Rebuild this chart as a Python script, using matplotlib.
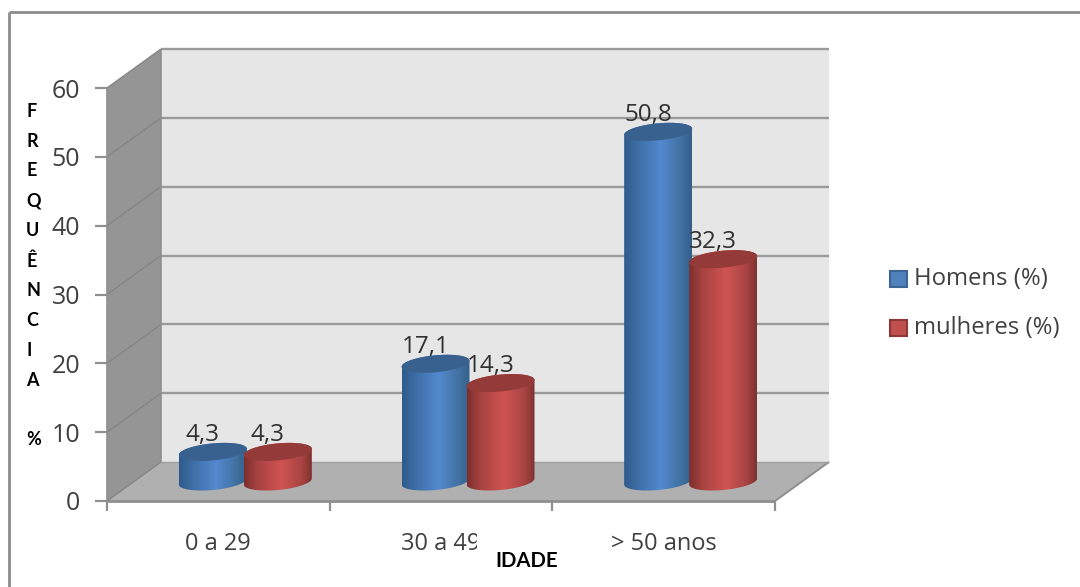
import numpy as np
import matplotlib
matplotlib.use("Agg")
import matplotlib.pyplot as plt
from matplotlib.colors import LinearSegmentedColormap
from matplotlib.patches import Polygon, Rectangle
from matplotlib.transforms import IdentityTransform

# Chart values
categories = ["0 a 29", "30 a 49", "> 50 anos"]
series_names = ["Homens (%)", "mulheres (%)"]
homens = [4.3, 17.1, 50.8]
mulheres = [4.3, 14.3, 32.3]
y_ticks = [0, 10, 20, 30, 40, 50, 60]
value_labels = [["4,3", "17,1", "50,8"], ["4,3", "14,3", "32,3"]]
y_title = "F\nR\nE\nQ\nU\nÊ\nN\nC\nI\nA\n\n%"
x_title = "IDADE"

W, H = 1080, 587
DEPTH = (54.0, 39.0)          # pixel shift from front plane to back wall
BAR_W = 68.0                  # cylinder width in pixels
BAR_STEP = 65.0               # distance between neighbouring cylinders
A = BAR_W / 2
B = 8.5                       # ellipse half height
SHEAR = 0.09                  # tilt of the cylinder caps
TXT = "#404040"
FONT = "Open Sans"

fig = plt.figure(figsize=(W / 100, H / 100), dpi=100, facecolor="white")
LEFT, RIGHT, TOP, BOTTOM = 107, 775, 88, 501
ax = fig.add_axes([LEFT / W, 1 - BOTTOM / H, (RIGHT - LEFT) / W, (BOTTOM - TOP) / H])
ax.set_xlim(0, len(categories))
ax.set_ylim(0, 60)
ax.axis("off")
disp = IdentityTransform()


def to_px(x, y):
    return ax.transData.transform((x, y))


def poly(points, **kw):
    p = Polygon(points, closed=True, transform=disp, clip_on=False, **kw)
    ax.add_patch(p)
    return p


def seg(p0, p1, **kw):
    ax.plot([p0[0], p1[0]], [p0[1], p1[1]], transform=disp, clip_on=False,
            solid_capstyle="butt", **kw)


dx, dy = DEPTH
x0, x1 = 0, len(categories)
f00 = to_px(x0, 0); f10 = to_px(x1, 0); f01 = to_px(x0, 60)
back = lambda p: (p[0] + dx, p[1] + dy)

# Walls and floor
poly([back(f00), back(f10), back(to_px(x1, 60)), back(f01)], fc="#e6e6e6", ec="none", zorder=1)
poly([f00, back(f00), back(f01), f01], fc="#959595", ec="none", zorder=1)
poly([f00, f10, back(f10), back(f00)], fc="#b0b0b0", ec="none", zorder=1)

# Gridlines run along the side wall and the back wall
EDGE = "#8f8f8f"
for t in y_ticks:
    front = to_px(x0, t)
    seg(front, back(front), color="#858585", lw=1.0, zorder=2)
    if t > 0:
        seg(back(front), back(to_px(x1, t)), color="#9a9a9a", lw=1.7, zorder=2)
    seg((front[0] - 12, front[1]), front, color=EDGE, lw=1.6, zorder=2)
seg(f00, f01, color=EDGE, lw=1.2, zorder=2)
seg(back(f00), back(f01), color=EDGE, lw=1.2, zorder=2)
seg(f00, f10, color=EDGE, lw=2.0, zorder=2)
seg(f10, back(f10), color=EDGE, lw=1.4, zorder=2)
seg(back(f00), back(f10), color="#a0a0a0", lw=1.0, zorder=2)
for i in range(len(categories) + 1):
    p = to_px(i, 0)
    seg(p, (p[0], p[1] - 10), color=EDGE, lw=1.6, zorder=2)

# Horizontal shading of the cylinders
cmap_blue = LinearSegmentedColormap.from_list(
    "blue", [(0, "#2f5b8b"), (0.22, "#3f70a8"), (0.55, "#5389cf"), (0.85, "#41709f"), (1, "#345f8c")])
cmap_red = LinearSegmentedColormap.from_list(
    "red", [(0, "#7c2f2d"), (0.2, "#a84341"), (0.55, "#d05452"), (0.85, "#a84442"), (1, "#7f3230")])
grad = np.linspace(0, 1, 128)[None, :]


def cap(cx, cy, t):
    return np.column_stack([cx + A * np.cos(t), cy + B * np.sin(t) + SHEAR * A * np.cos(t)])


def cylinder(i, offset, value, cmap, top_color, z):
    base = to_px(i + 0.5, 0)
    cx = base[0] + dx / 2 + offset
    yb = base[1] + dy / 2
    yt = to_px(i + 0.5, value)[1] + dy / 2
    lower = cap(cx, yb, np.linspace(np.pi, 2 * np.pi, 60))
    upper = cap(cx, yt, np.linspace(0, np.pi, 60))
    body = poly(np.vstack([lower, upper]), fc="none", ec="none", zorder=z)
    im = ax.imshow(grad, cmap=cmap, aspect="auto", transform=disp, zorder=z,
                   extent=(cx - A, cx + A, yb - 20, yt + 20), interpolation="bilinear")
    im.set_clip_path(body)
    poly(cap(cx, yt, np.linspace(0, 2 * np.pi, 120)), fc=top_color, ec="none", zorder=z + 0.1)
    return cx, yt


# Cylinders are drawn with the red one over its blue neighbour
tops = []
for i in range(len(categories)):
    tops.append((0, i) + cylinder(i, -BAR_STEP / 2, homens[i], cmap_blue, "#38618f", 3))
for i in range(len(categories)):
    tops.append((1, i) + cylinder(i, BAR_STEP / 2, mulheres[i], cmap_red, "#943a38", 4))
ax.set_xlim(0, len(categories))
ax.set_ylim(0, 60)

# Value labels sit just above each cap and lean towards the left
for s, i, cx, yt in tops:
    ax.text(cx - 10, yt + 11, value_labels[s][i], transform=disp, ha="center", va="baseline",
            fontsize=17.5, family=FONT, color="#303030", zorder=6, clip_on=False)

# Tick labels
for t in y_ticks:
    p = to_px(x0, t)
    ax.text(p[0] - 27, p[1] - 3, str(t), transform=disp, ha="right", va="center",
            fontsize=18, family=FONT, color=TXT, clip_on=False, zorder=5)
for i, name in enumerate(categories):
    p = to_px(i + 0.5, 0)
    ax.text(p[0], p[1] - 43, name, transform=disp, ha="center", va="center",
            fontsize=17, family=FONT, color=TXT, clip_on=False, zorder=5)

# Legend
for name, fc, ec, py in zip(series_names, ["#4f81bd", "#c0504d"], ["#3a6595", "#8c3836"], [279, 328]):
    ax.add_patch(Rectangle((890, H - py - 8), 17, 16, transform=disp, fc=fc, ec=ec, lw=1.5,
                           clip_on=False, zorder=5))
    ax.text(914, H - py, name, transform=disp, ha="left", va="center", fontsize=17.2,
            family=FONT, color=TXT, clip_on=False, zorder=5)

# Axis titles; the IDADE box sits on top of the neighbouring tick label
ax.add_patch(Rectangle((477, H - 582), 90, 50, transform=disp, fc="white", ec="none",
                       clip_on=False, zorder=7))
ax.text(527, H - 561, x_title, transform=disp, ha="center", va="center", fontsize=14.7,
        family="Lato", weight="bold", color="black", clip_on=False, zorder=8)
ax.text(26, H - 103, y_title, transform=disp, ha="left", va="top", fontsize=13,
        family="Lato", weight="bold", color="black", clip_on=False, zorder=8).set_linespacing(1.91)

# Chart frame: only its top and left edges fall inside the canvas
frame = "#8c8c8c"
seg((8.5, H - 12), (W, H - 12), color=frame, lw=2)
seg((9, H - 12), (9, 0), color=frame, lw=2)

fig.savefig("out.png", dpi=100, facecolor="white")
